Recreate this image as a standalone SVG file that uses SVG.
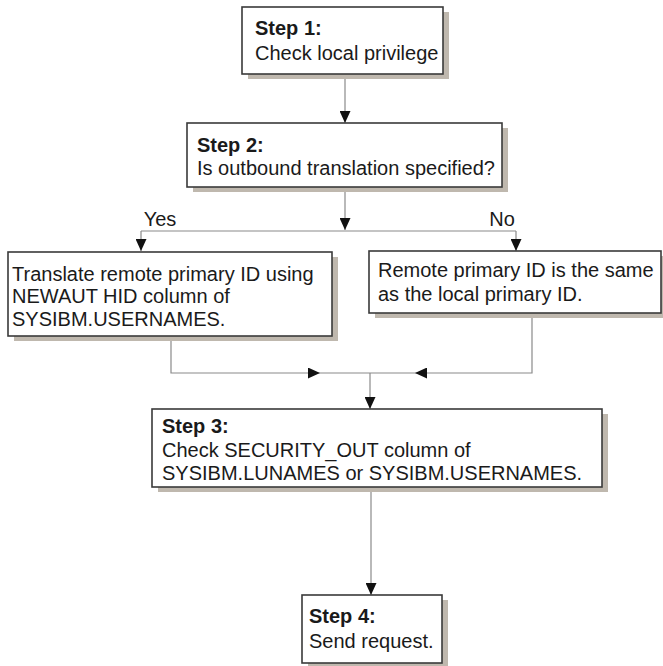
<svg xmlns="http://www.w3.org/2000/svg" width="663" height="666" viewBox="0 0 663 666">
<defs>
<style>
.shadow{fill:#bfb8ae;stroke:none}
.box{fill:#fff;stroke:#3a3a3a;stroke-width:1.6}
.t{font-family:"Liberation Sans",Arial,Helvetica,sans-serif;font-size:20px;fill:#1a1a1a}
.b{font-weight:bold}
.c{fill:none;stroke:#8a8a8a;stroke-width:1.2}
</style>
<marker id="arr" markerWidth="12" markerHeight="11" refX="12" refY="5.5" viewBox="0 0 12 11" orient="auto" markerUnits="userSpaceOnUse">
<path d="M0,0 L12,5.5 L0,11 Z" fill="#111"/>
</marker>
</defs>
<rect width="663" height="666" fill="#fff"/>
<g id="connectors">
<path class="c" d="M345,74 V123" marker-end="url(#arr)"/>
<path class="c" d="M345,187 V230" marker-end="url(#arr)"/>
<path class="c" d="M141,231 H516"/>
<path class="c" d="M141,231 V251" marker-end="url(#arr)"/>
<path class="c" d="M516,231 V251" marker-end="url(#arr)"/>
<path class="c" d="M171,336 V373 H320" marker-end="url(#arr)"/>
<path class="c" d="M320,373 H371"/>
<path class="c" d="M532,313 V373 H415" marker-end="url(#arr)"/>
<path class="c" d="M415,373 H371"/>
<path class="c" d="M370,373 V409" marker-end="url(#arr)"/>
<path class="c" d="M371,487 V595" marker-end="url(#arr)"/>
<text class="t" x="160" y="226" text-anchor="middle">Yes</text>
<text class="t" x="502" y="226" text-anchor="middle">No</text>
</g>
<g id="step1">
<rect class="shadow" x="248" y="12" width="201" height="67"/>
<rect class="box" x="242" y="7" width="201" height="67"/>
<text class="t b" x="255" y="35">Step 1:</text>
<text class="t" x="255" y="60">Check local privilege</text>
</g>
<g id="step2">
<rect class="shadow" x="193" y="128" width="315" height="64"/>
<rect class="box" x="187" y="123" width="315" height="64"/>
<text class="t b" x="197" y="152">Step 2:</text>
<text class="t" x="197" y="175">Is outbound translation specified?</text>
</g>
<g id="translate">
<rect class="shadow" x="14" y="257" width="324" height="84"/>
<rect class="box" x="8" y="252" width="324" height="84"/>
<text class="t" x="12" y="281">Translate remote primary ID using</text>
<text class="t" x="12" y="303">NEWAUT HID column of</text>
<text class="t" x="12" y="326">SYSIBM.USERNAMES.</text>
</g>
<g id="remote">
<rect class="shadow" x="375" y="256" width="293" height="62"/>
<rect class="box" x="369" y="251" width="292" height="62"/>
<text class="t" x="378" y="277">Remote primary ID is the same</text>
<text class="t" x="378" y="301">as the local primary ID.</text>
</g>
<g id="step3">
<rect class="shadow" x="158" y="414" width="450" height="78"/>
<rect class="box" x="152" y="409" width="450" height="78"/>
<text class="t b" x="162" y="433">Step 3:</text>
<text class="t" x="162" y="457">Check SECURITY_OUT column of</text>
<text class="t" x="162" y="480">SYSIBM.LUNAMES or SYSIBM.USERNAMES.</text>
</g>
<g id="step4">
<rect class="shadow" x="308" y="600" width="140" height="68"/>
<rect class="box" x="302" y="595" width="140" height="68"/>
<text class="t b" x="309" y="623">Step 4:</text>
<text class="t" x="309" y="648">Send request.</text>
</g>
</svg>
